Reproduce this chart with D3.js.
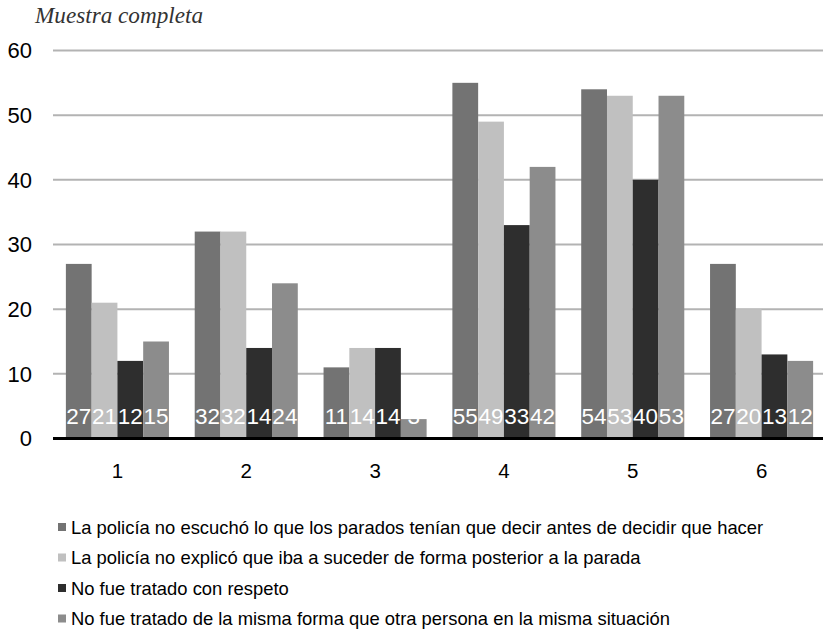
<!DOCTYPE html>
<html><head><meta charset="utf-8">
<script src="https://cdn.jsdelivr.net/npm/d3@7"></script>
<style>body{margin:0;background:#fff}svg{display:block}</style>
</head><body>
<svg id="c" width="823" height="631"></svg>
<script>
const categories = ["1","2","3","4","5","6"];
const seriesNames = [
  "La policía no escuchó lo que los parados tenían que decir antes de decidir que hacer",
  "La policía no explicó que iba a suceder de forma posterior a la parada",
  "No fue tratado con respeto",
  "No fue tratado de la misma forma que otra persona en la misma situación"
];
const s1 = [27,32,11,55,54,27];
const s2 = [21,32,14,49,53,20];
const s3 = [12,14,14,33,40,13];
const s4 = [15,24,3,42,53,12];
const seriesValues = [s1,s2,s3,s4];
const colors = ["#737373","#c0c0c0","#2e2e2e","#8c8c8c"];
const yTicks = [0,10,20,30,40,50,60];
const title = "Muestra completa";

const svg = d3.select("#c");
const y = d3.scaleLinear().domain([0,60]).range([438.5,50.5]);
const x0 = d3.scaleBand().domain(categories).range([53,826]).paddingInner(0.2).paddingOuter(0.1);
const x1 = d3.scaleBand().domain(d3.range(seriesNames.length)).range([0,x0.bandwidth()]);
const sans = "Liberation Sans, Arial, sans-serif";

// gridlines
svg.append("g").selectAll("line").data(yTicks.filter(d=>d>0)).join("line")
  .attr("x1",53).attr("x2",823).attr("y1",d=>y(d)).attr("y2",d=>y(d))
  .attr("stroke","#b3b3b3").attr("stroke-width",2);

// y tick labels
svg.append("g").selectAll("text").data(yTicks).join("text")
  .attr("x",32).attr("y",d=>y(d)).attr("dy","0.36em").attr("text-anchor","end")
  .attr("font-family",sans).attr("font-size",22)
  .attr("fill","#000").text(d=>d);

// bars
const groups = svg.append("g").selectAll("g").data(categories).join("g")
  .attr("transform",d=>`translate(${x0(d)},0)`);
groups.selectAll("rect").data((c,ci)=>seriesValues.map((s,si)=>({si,v:s[ci]}))).join("rect")
  .attr("x",d=>x1(d.si)).attr("width",x1.bandwidth())
  .attr("y",d=>y(d.v)).attr("height",d=>y(0)-y(d.v))
  .attr("fill",d=>colors[d.si]);
groups.selectAll("text").data((c,ci)=>seriesValues.map((s,si)=>({si,v:s[ci]}))).join("text")
  .attr("x",d=>x1(d.si)+x1.bandwidth()/2).attr("y",y(0)-14.5)
  .attr("text-anchor","middle").attr("fill","#fff")
  .attr("font-family",sans).attr("font-size",22.5)
  .text(d=>d.v);

// x axis line
svg.append("line").attr("x1",53).attr("x2",823).attr("y1",y(0)).attr("y2",y(0))
  .attr("stroke","#000").attr("stroke-width",3);

// category labels
svg.append("g").selectAll("text").data(categories).join("text")
  .attr("x",d=>x0(d)+x0.bandwidth()/2).attr("y",478)
  .attr("text-anchor","middle").attr("font-family",sans)
  .attr("font-size",20.5).attr("fill","#000").text(d=>d);

// title
svg.append("text").attr("x",35).attr("y",23)
  .attr("font-family","Liberation Serif, serif").attr("font-style","italic")
  .attr("font-size",23.2).attr("fill","#333").text(title);

// legend
const lg = svg.append("g").selectAll("g").data(seriesNames).join("g")
  .attr("transform",(d,i)=>`translate(58,${527 + i*30.5})`);
lg.append("rect").attr("x",0).attr("y",-4).attr("width",8).attr("height",8)
  .attr("fill",(d,i)=>colors[i]);
lg.append("text").attr("x",13).attr("y",0).attr("dy","0.36em")
  .attr("font-family",sans).attr("font-size",18.4)
  .attr("fill","#000").text(d=>d);
</script>
</body></html>
